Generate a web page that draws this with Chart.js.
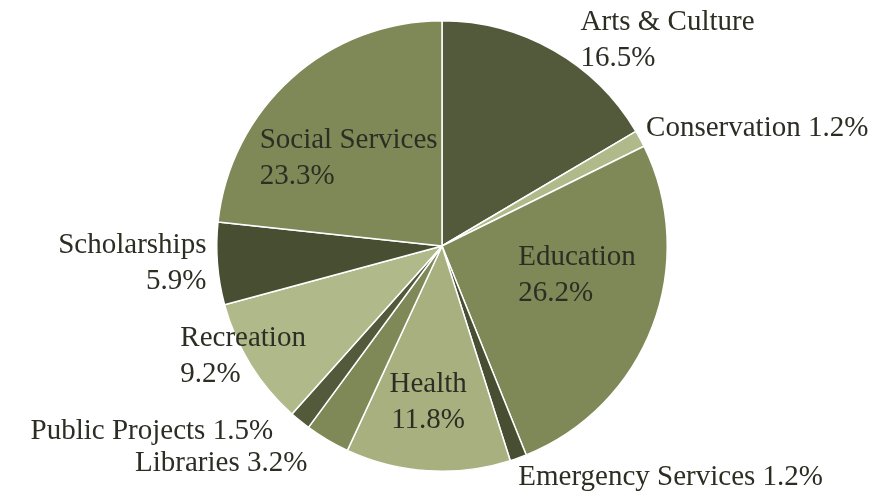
<!DOCTYPE html>
<html>
<head>
<meta charset="utf-8">
<script src="https://cdn.jsdelivr.net/npm/chart.js@4/dist/chart.umd.min.js"></script>
<style>
  html, body { margin: 0; padding: 0; background: #fff; }
  #wrap { width: 879px; height: 496px; }
</style>
</head>
<body>
<div id="wrap"><canvas id="chart"></canvas></div>
<script>
// categories and shares (%), clockwise from 12 o'clock
var categories = ['Arts & Culture', 'Conservation', 'Education', 'Emergency Services', 'Health',
                  'Libraries', 'Public Projects', 'Recreation', 'Scholarships', 'Social Services'];
var shares = [16.5, 1.2, 26.2, 1.2, 11.8, 3.2, 1.5, 9.2, 5.9, 23.3];

var color = {
    dark: '#535a3c',
    darker: '#474e32',
    mid: '#7e8957',
    light: '#b0b98a',
    pale: '#a9b080'
};
var sliceColors = [color.dark, color.light, color.mid, color.darker, color.pale,
                   color.mid, color.dark, color.light, color.darker, color.mid];

// label placement: r = radius factor of anchor on slice's mid angle, dx/dy nudge, two lines or one
var labelStyle = [
    {r: 1,   dx: 27,  dy: -10, align: 'left',   split: true},
    {r: 1,   dx: 6,   dy: -10, align: 'left',   split: false},
    {r: 0.6, dx: -50, dy: -19, align: 'left',   split: true},
    {r: 1,   dx: 0,   dy: 19,  align: 'left',   split: false},
    {r: 0.7, dx: -4,  dy: -1,  align: 'center', split: true},
    {r: 1,   dx: -20, dy: 24,  align: 'right',  split: false},
    {r: 1,   dx: -27, dy: 10,  align: 'right',  split: false},
    {r: 1,   dx: -70, dy: -8,  align: 'left',   split: true},
    {r: 1,   dx: -11, dy: 0,   align: 'right',  split: true},
    {r: 0.6, dx: -92, dy: 13,  align: 'left',   split: true}
];

var sliceLabels = {
    id: 'sliceLabels',
    afterDatasetsDraw: function(chart) {
        var ctx = chart.ctx;
        var meta = chart.getDatasetMeta(0);
        ctx.save();
        ctx.font = '29px "Liberation Serif", "DejaVu Serif", serif';
        ctx.fillStyle = '#2c2e23';
        ctx.textBaseline = 'middle';
        meta.data.forEach(function(arc, i) {
            var p = arc.getProps(['x', 'y', 'startAngle', 'endAngle', 'outerRadius'], true);
            var mid = (p.startAngle + p.endAngle) / 2;
            var st = labelStyle[i];
            var ax = p.x + Math.cos(mid) * p.outerRadius * st.r + st.dx;
            var ay = p.y + Math.sin(mid) * p.outerRadius * st.r + st.dy;
            var pct = shares[i].toFixed(1) + '%';
            ctx.textAlign = st.align;
            if (st.split) {
                ctx.fillText(categories[i], ax, ay - 18);
                ctx.fillText(pct, ax, ay + 18);
            } else {
                ctx.fillText(categories[i] + ' ' + pct, ax, ay);
            }
        });
        ctx.restore();
    }
};

var ctx = document.getElementById('chart').getContext('2d');
var chart = new Chart(ctx, {
    type: 'pie',
    data: {
        labels: categories,
        datasets: [{
            data: shares,
            backgroundColor: sliceColors,
            borderColor: '#ffffff',
            borderWidth: 1.5
        }]
    },
    options: {
        responsive: true,
        maintainAspectRatio: false,
        animation: false,
        layout: { padding: { top: 20, bottom: 24, left: 216, right: 211 } },
        plugins: {
            legend: { display: false },
            tooltip: { enabled: false }
        }
    },
    plugins: [sliceLabels]
});
</script>
</body>
</html>
